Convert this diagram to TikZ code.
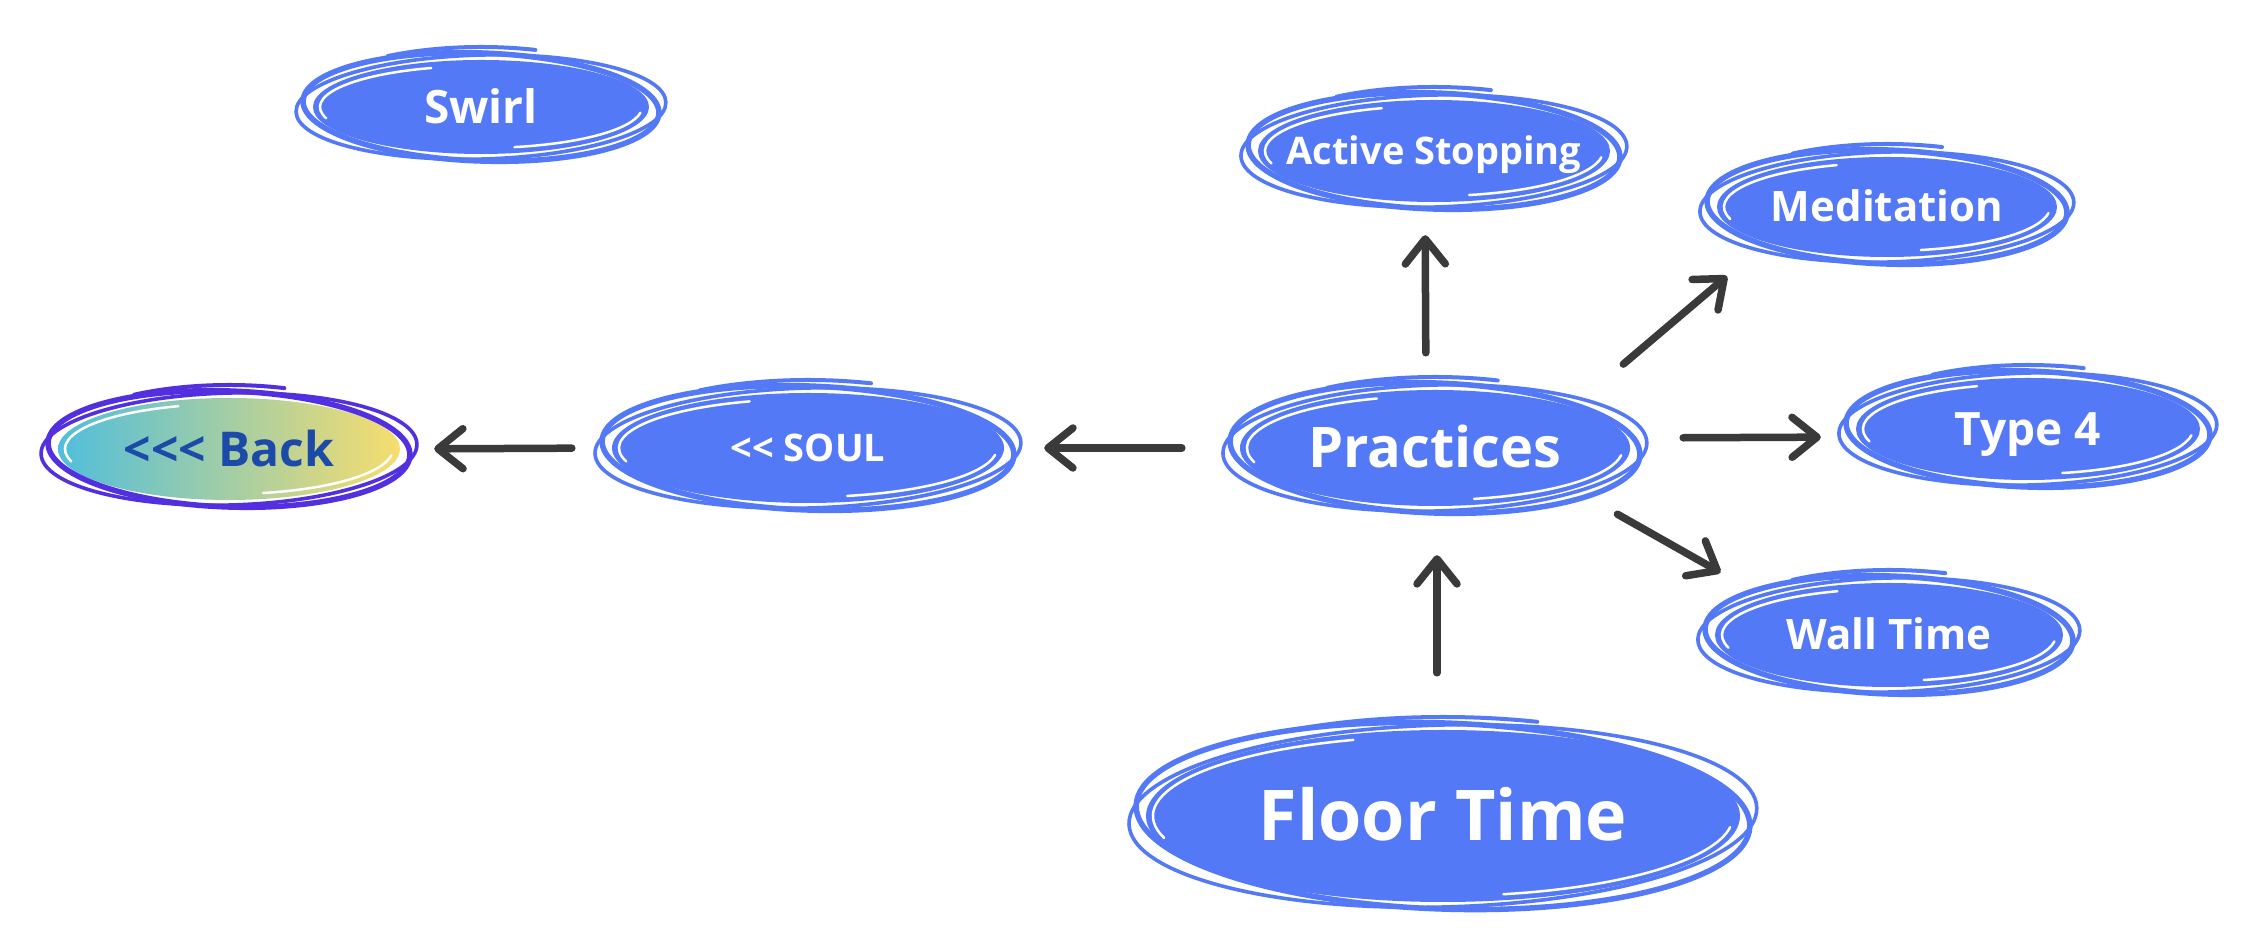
\documentclass[tikz,border=0pt]{standalone}
\usepackage{fontspec}
\setmainfont{Open Sans}[Ligatures=TeXOff]
\usetikzlibrary{arrows.meta,shapes.geometric}
\definecolor{blobblue}{RGB}{84,121,246}
\definecolor{arrowgray}{RGB}{58,58,58}
\definecolor{backpurple}{RGB}{82,48,223}
\definecolor{backcyan}{RGB}{80,190,220}
\definecolor{backyellow}{RGB}{247,221,110}
\definecolor{backtext}{RGB}{27,74,168}
\tikzset{
  blobnode/.style={shape=ellipse, inner sep=0pt, draw=none, text=white},
  bluefill/.style={fill=blobblue},
  backfill/.style={left color=backcyan, right color=backyellow, text=backtext},
  arr/.style={draw=arrowgray, line width=7.5pt, line cap=round,
    -{Straight Barb[length=25pt, width=40pt, round]}},
}
% #1 name, #2 x, #3 y, #4 rx, #5 ry, #6 font size, #7 text, #8 fill style
\newcommand\myblob[8]{%
  \pgfmathsetmacro\capht{0.714*#6}%
  \pgfmathsetmacro\mw{2*#4}%
  \pgfmathsetmacro\mh{2*#5}%
  \node[blobnode, #8, minimum width=\mw pt, minimum height=\mh pt,
        text height=\capht pt, text depth=0pt,
        font=\fontsize{#6}{#6}\selectfont\bfseries] (#1) at (#2,#3) {\makebox[0pt]{#7}};
}
% #1 name, #2 rx, #3 ry, #4 colour
\newcommand\mysketch[4]{%
  \pgfmathsetmacro\ra{#2+10}\pgfmathsetmacro\rb{#3+7}%
  \pgfmathsetmacro\rc{#2+17}\pgfmathsetmacro\rd{#3+5}%
  \pgfmathsetmacro\re{#2+8}\pgfmathsetmacro\rf{#3+13}%
  \pgfmathsetmacro\wa{#2-7}\pgfmathsetmacro\wb{#3-6}%
  \draw[line width=5.5pt, #4, rotate around={-2:(#1.center)}] (#1.center) ellipse [x radius=\ra pt, y radius=\rb pt];
  \draw[line width=3.6pt, #4, rotate around={1.5:(#1.center)}] (#1.center) ellipse [x radius=\rc pt, y radius=\rd pt];
  \draw[line width=4pt, #4, line cap=round] (#1.center) ++(122:\re pt and \rf pt)
     arc [start angle=122, end angle=72, x radius=\re pt, y radius=\rf pt];
  \draw[line width=2.5pt, white, line cap=round] (#1.center) ++(108:\wa pt and \wb pt)
     arc [start angle=108, end angle=196, x radius=\wa pt, y radius=\wb pt];
  \draw[line width=2.5pt, white, line cap=round] (#1.center) ++(282:\wa pt and \wb pt)
     arc [start angle=282, end angle=352, x radius=\wa pt, y radius=\wb pt];
}
\begin{document}
\begin{tikzpicture}[x=1pt, y=1pt]
\useasboundingbox[fill=white] (0,0) rectangle (2246,952);

\myblob{swirl}{481}{845}{168}{47}{46}{Swirl}{bluefill}
\myblob{back}{229}{503}{171}{51}{48}{<\kern0pt<\kern0pt< Back}{backfill}
\myblob{soul}{808}{504}{196}{55}{38}{<\kern0pt< SOUL}{bluefill}
\myblob{practices}{1435}{504}{195}{58}{56}{Practices}{bluefill}
\myblob{active}{1434}{801}{176}{51}{38}{Active Stopping}{bluefill}
\myblob{meditation}{1887}{745}{170}{50}{42}{Meditation}{bluefill}
\myblob{type4}{2028}{523}{172}{51}{46}{Type 4}{bluefill}
\myblob{wall}{1889}{317}{174}{52}{42}{Wall Time}{bluefill}
\myblob{floor}{1443}{136}{297}{86}{70}{Floor Time}{bluefill}

\mysketch{swirl}{168}{47}{blobblue}
\mysketch{back}{171}{51}{backpurple}
\mysketch{soul}{196}{55}{blobblue}
\mysketch{practices}{195}{58}{blobblue}
\mysketch{active}{176}{51}{blobblue}
\mysketch{meditation}{170}{50}{blobblue}
\mysketch{type4}{172}{51}{blobblue}
\mysketch{wall}{174}{52}{blobblue}
\mysketch{floor}{297}{86}{blobblue}

\draw[arr, shorten <=37pt, shorten >=33pt] ([xshift=-9pt]practices.north) -- ([xshift=-9pt]active.south);
\draw[arr, shorten <=66pt, shorten >=52pt] (practices.north east) -- (meditation.south west);
\draw[arr, shorten <=53pt, shorten >=35pt] ([yshift=10pt]practices.east) -- ([yshift=-8pt]type4.west);
\draw[arr, shorten <=51pt, shorten >=52pt] (practices.south east) -- (wall.north west);
\draw[arr, shorten <=57pt, shorten >=49pt] ([xshift=-6pt]floor.north) -- ([xshift=2pt]practices.south);
\draw[arr, shorten <=58pt, shorten >=40pt] (practices.west) -- (soul.east);
\draw[arr, shorten <=40pt, shorten >=34pt] (soul.west) -- (back.east);
\end{tikzpicture}
\end{document}
